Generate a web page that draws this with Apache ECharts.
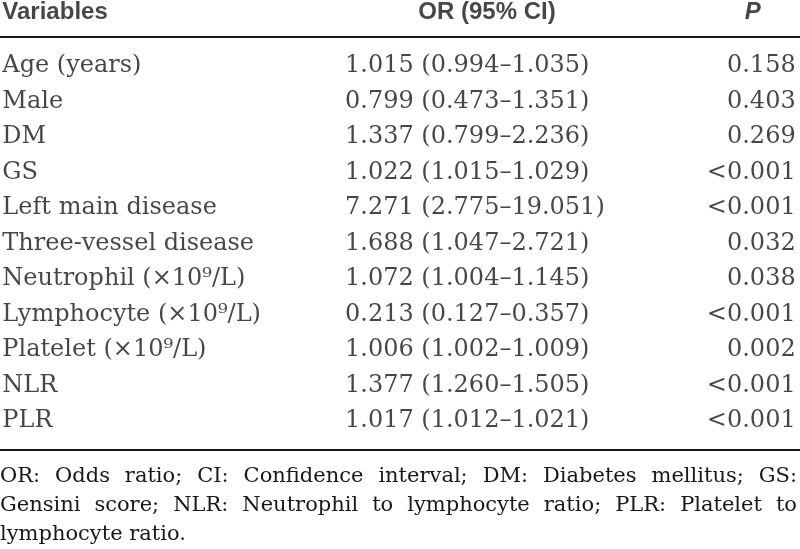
<!DOCTYPE html>
<html><head><meta charset="utf-8">
<script src="https://cdn.jsdelivr.net/npm/echarts@6/dist/echarts.min.js"></script>
<style>html,body{margin:0;padding:0;background:#fff}#c{width:800px;height:549px}</style>
</head><body><div id="c"></div>
<script>
// ---- data ----
const headers = ['Variables', 'OR (95% CI)', 'P'];
const variables = ['Age (years)', 'Male', 'DM', 'GS', 'Left main disease', 'Three-vessel disease',
  'Neutrophil (×10⁹/L)', 'Lymphocyte (×10⁹/L)', 'Platelet (×10⁹/L)', 'NLR', 'PLR'];
const oddsRatio = ['1.015', '0.799', '1.337', '1.022', '7.271', '1.688', '1.072', '0.213', '1.006', '1.377', '1.017'];
const ciLower = ['0.994', '0.473', '0.799', '1.015', '2.775', '1.047', '1.004', '0.127', '1.002', '1.260', '1.012'];
const ciUpper = ['1.035', '1.351', '2.236', '1.029', '19.051', '2.721', '1.145', '0.357', '1.009', '1.505', '1.021'];
const pValues = ['0.158', '0.403', '0.269', '<0.001', '<0.001', '0.032', '0.038', '<0.001', '0.002', '<0.001', '<0.001'];
const footnoteLines = [
  'OR: Odds ratio; CI: Confidence interval; DM: Diabetes mellitus; GS:',
  'Gensini score; NLR: Neutrophil to lymphocyte ratio; PLR: Platelet to',
  'lymphocyte ratio.'
];

// ---- chart ----
const ink = '#1a1718';
const serif = '"DejaVu Serif", serif';
const sans = '"Liberation Sans", Arial, sans-serif';
const chart = echarts.init(document.getElementById('c'), null, {renderer: 'canvas'});

const orText = oddsRatio.map((v, i) => v + ' (' + ciLower[i] + '–' + ciUpper[i] + ')');
const columnTexts = [variables, orText, pValues];
const columnLabel = [
  {align: 'left', offset: [-131, 0]},
  {align: 'left', offset: [-55, 0]},
  {align: 'right', offset: [129, 0]}
];
const headerLabel = [
  {align: 'left', offset: [-131, -6], fontStyle: 'normal'},
  {align: 'center', offset: [87, -6], fontStyle: 'normal'},
  {align: 'center', offset: [86, -6], fontStyle: 'italic'}
];

const bodySeries = columnTexts.map((texts, c) => ({
  type: 'scatter', xAxisIndex: 1, yAxisIndex: 1, silent: true, clip: false,
  symbolSize: 1, itemStyle: {color: 'rgba(0,0,0,0)'},
  data: texts.map((t, i) => [c, i]),
  label: {
    show: true, position: 'inside', verticalAlign: 'middle',
    align: columnLabel[c].align, offset: columnLabel[c].offset,
    fontFamily: serif, fontSize: 24, color: ink,
    formatter: p => texts[p.data[1]]
  }
}));

const headerSeries = {
  type: 'scatter', xAxisIndex: 0, yAxisIndex: 0, silent: true, clip: false,
  symbolSize: 1, itemStyle: {color: 'rgba(0,0,0,0)'},
  data: headers.map((h, c) => ({
    value: [c, 0],
    label: {align: headerLabel[c].align, offset: headerLabel[c].offset, fontStyle: headerLabel[c].fontStyle}
  })),
  label: {
    show: true, position: 'inside', verticalAlign: 'middle',
    fontFamily: sans, fontWeight: 'bold', fontSize: 24, color: ink,
    formatter: p => headers[p.data.value ? p.data.value[0] : p.value[0]]
  }
};

// footnote, justified
const ctx = document.createElement('canvas').getContext('2d');
const footFont = '21px "DejaVu Serif"';
ctx.font = footFont;
const footWidth = 797;
const footTop = 477, footStep = 29;
const graphics = [];
footnoteLines.forEach((line, li) => {
  const words = line.split(' ');
  const ww = words.map(w => ctx.measureText(w).width);
  const total = ww.reduce((a, b) => a + b, 0);
  const justify = li < footnoteLines.length - 1;
  const space = ctx.measureText(' ').width;
  let gap = justify ? (footWidth - total) / (words.length - 1) : space;
  if (gap < space * 0.6) gap = space * 0.6;
  let x = 0;
  words.forEach((w, i) => {
    graphics.push({type: 'text', x: x, y: footTop + li * footStep, silent: true,
      style: {text: w, font: footFont, fill: ink, textAlign: 'left', textVerticalAlign: 'middle', verticalAlign: 'middle'}});
    x += ww[i] + gap;
  });
});

chart.setOption({
  animation: false,
  backgroundColor: '#fff',
  grid: [
    {left: 0, right: 0, top: 0, height: 37},
    {left: 0, right: 0, top: 37, bottom: 99}
  ],
  xAxis: [
    {gridIndex: 0, type: 'category', data: headers, show: false},
    {gridIndex: 1, type: 'category', data: headers, position: 'top',
      axisLine: {show: true, onZero: false, lineStyle: {color: ink, width: 2}},
      axisTick: {show: false}, axisLabel: {show: false}, splitLine: {show: false}},
    {gridIndex: 1, type: 'category', data: headers, position: 'bottom',
      axisLine: {show: true, onZero: false, lineStyle: {color: ink, width: 2}},
      axisTick: {show: false}, axisLabel: {show: false}, splitLine: {show: false}}
  ],
  yAxis: [
    {gridIndex: 0, type: 'category', data: ['header'], show: false},
    {gridIndex: 1, type: 'value', inverse: true, min: -0.82, max: 10.82, show: false, splitLine: {show: false}}
  ],
  series: [headerSeries].concat(bodySeries),
  graphic: graphics
});
</script></body></html>
